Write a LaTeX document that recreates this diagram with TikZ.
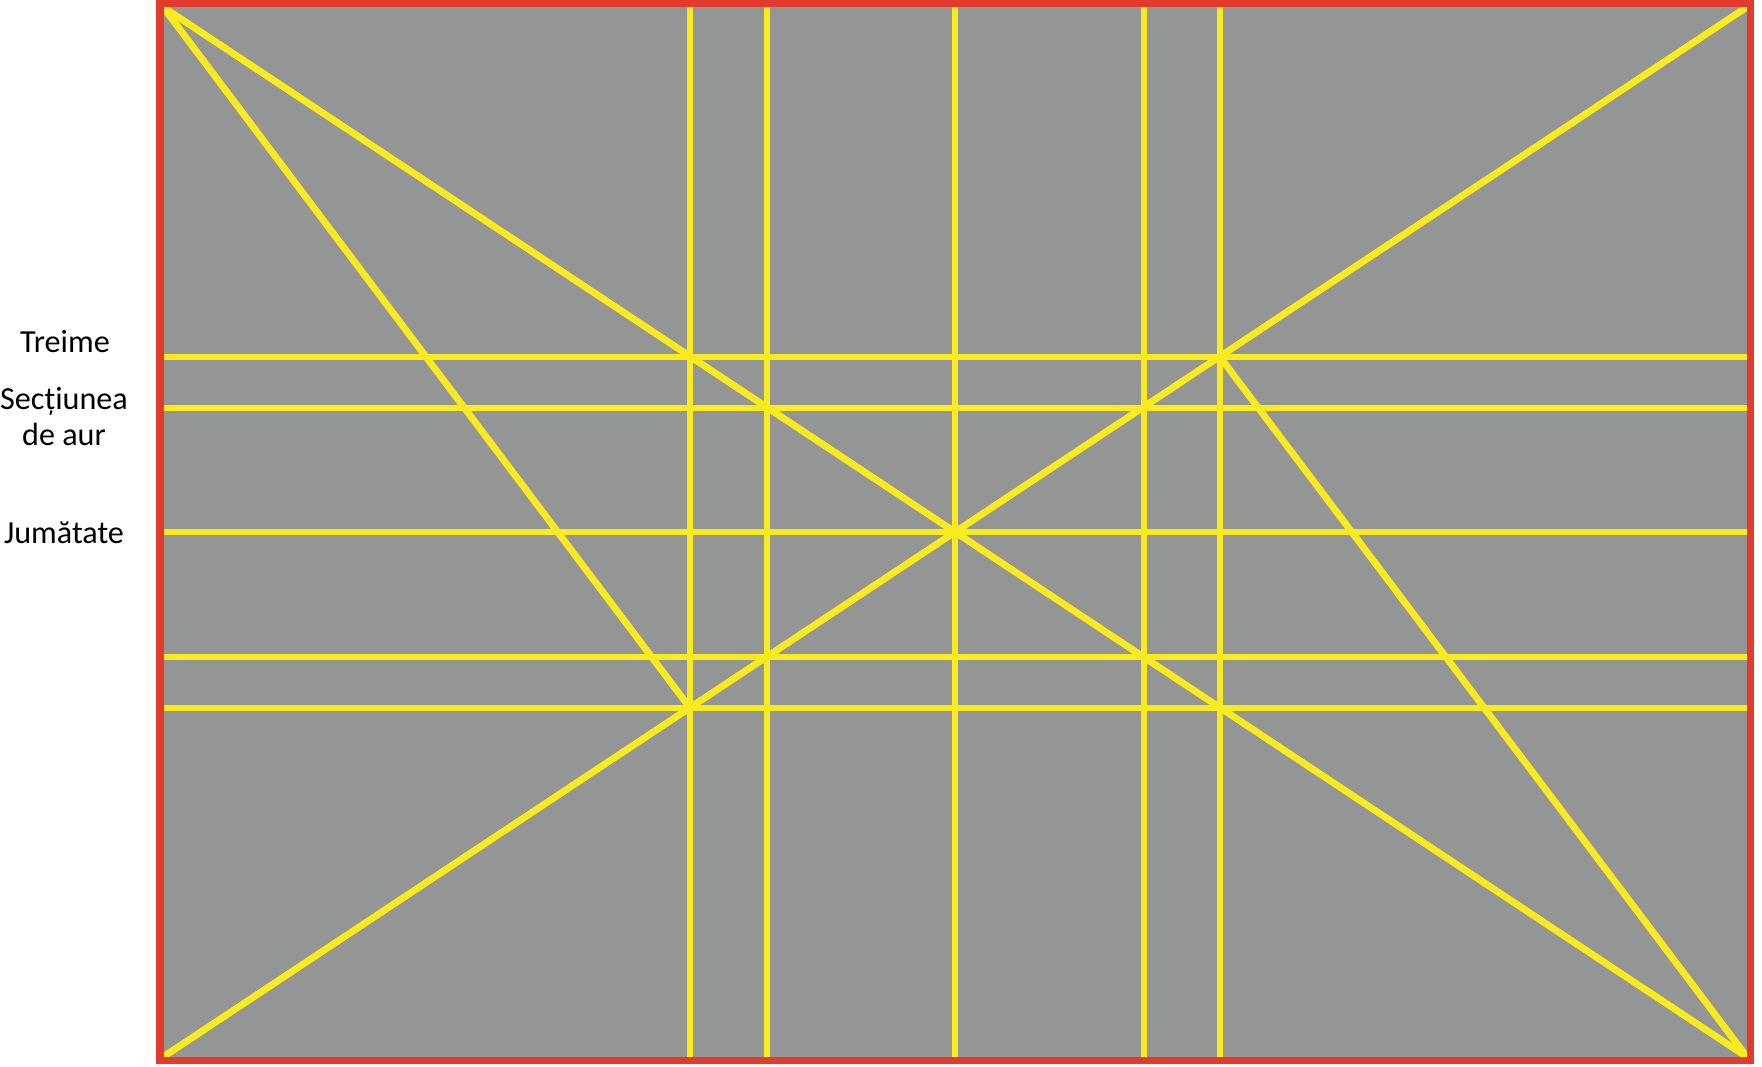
\documentclass[tikz,border=0pt]{standalone}
\usepackage{fontspec}
\setmainfont{Carlito}
\usepackage{tikz}
\usetikzlibrary{calc}

\definecolor{canvasgray}{RGB}{148,149,149}
\definecolor{guideyellow}{RGB}{250,234,32}
\definecolor{framered}{RGB}{226,58,44}

\begin{document}
\begin{tikzpicture}[
        x=0.02cm, y=-0.02cm,
        guide_line/.style={draw=guideyellow, line width=3.9pt},
        label_text/.style={font=\fontsize{18.3}{21}\selectfont, inner sep=0pt, align=center, anchor=base}
    ]
    \useasboundingbox (0,0) rectangle (1762,1067);

    % =========================================================================
    % 1. CANVAS (gray area inside the frame)
    % =========================================================================
    \coordinate (TL) at (163,7);
    \coordinate (TR) at (1747,7);
    \coordinate (BL) at (163,1057);
    \coordinate (BR) at (1747,1057);
    \fill[canvasgray] (TL) rectangle (BR);

    % =========================================================================
    % 2. VERTICAL GUIDES (thirds, golden section, half)
    % =========================================================================
    \draw[guide_line] (690,7) -- (690,1057);   % third
    \draw[guide_line] (767,7) -- (767,1057);   % golden section
    \draw[guide_line] (955,7) -- (955,1057);   % half
    \draw[guide_line] (1144,7) -- (1144,1057); % golden section
    \draw[guide_line] (1220,7) -- (1220,1057); % third

    % =========================================================================
    % 3. HORIZONTAL GUIDES
    % =========================================================================
    \draw[guide_line] (163,357) -- (1747,357);  % third
    \draw[guide_line] (163,408) -- (1747,408);  % golden section
    \draw[guide_line] (163,532) -- (1747,532);  % half
    \draw[guide_line] (163,657) -- (1747,657);  % golden section
    \draw[guide_line] (163,708) -- (1747,708);  % third

    % =========================================================================
    % 4. DIAGONALS
    % =========================================================================
    % Corner to corner
    \draw[guide_line] (TL) -- (BR);
    \draw[guide_line] (BL) -- (TR);
    % Corner to the crossing of the thirds
    \coordinate (P1) at (690,708);
    \coordinate (P2) at (1220,357);
    \draw[guide_line] (TL) -- (P1);
    \draw[guide_line] (BR) -- (P2);

    % =========================================================================
    % 5. FRAME
    % =========================================================================
    \draw[framered, line width=4pt] (160,3.5) rectangle (1750,1060.5);

    % =========================================================================
    % 6. LABELS
    % =========================================================================
    \node[label_text] (treime) at (65,353) {Treime};
    \node[label_text] (aur) at (64,446) {Secțiunea\\de aur};
    \node[label_text] (jumatate) at (64,543) {Jumătate};

\end{tikzpicture}
\end{document}
